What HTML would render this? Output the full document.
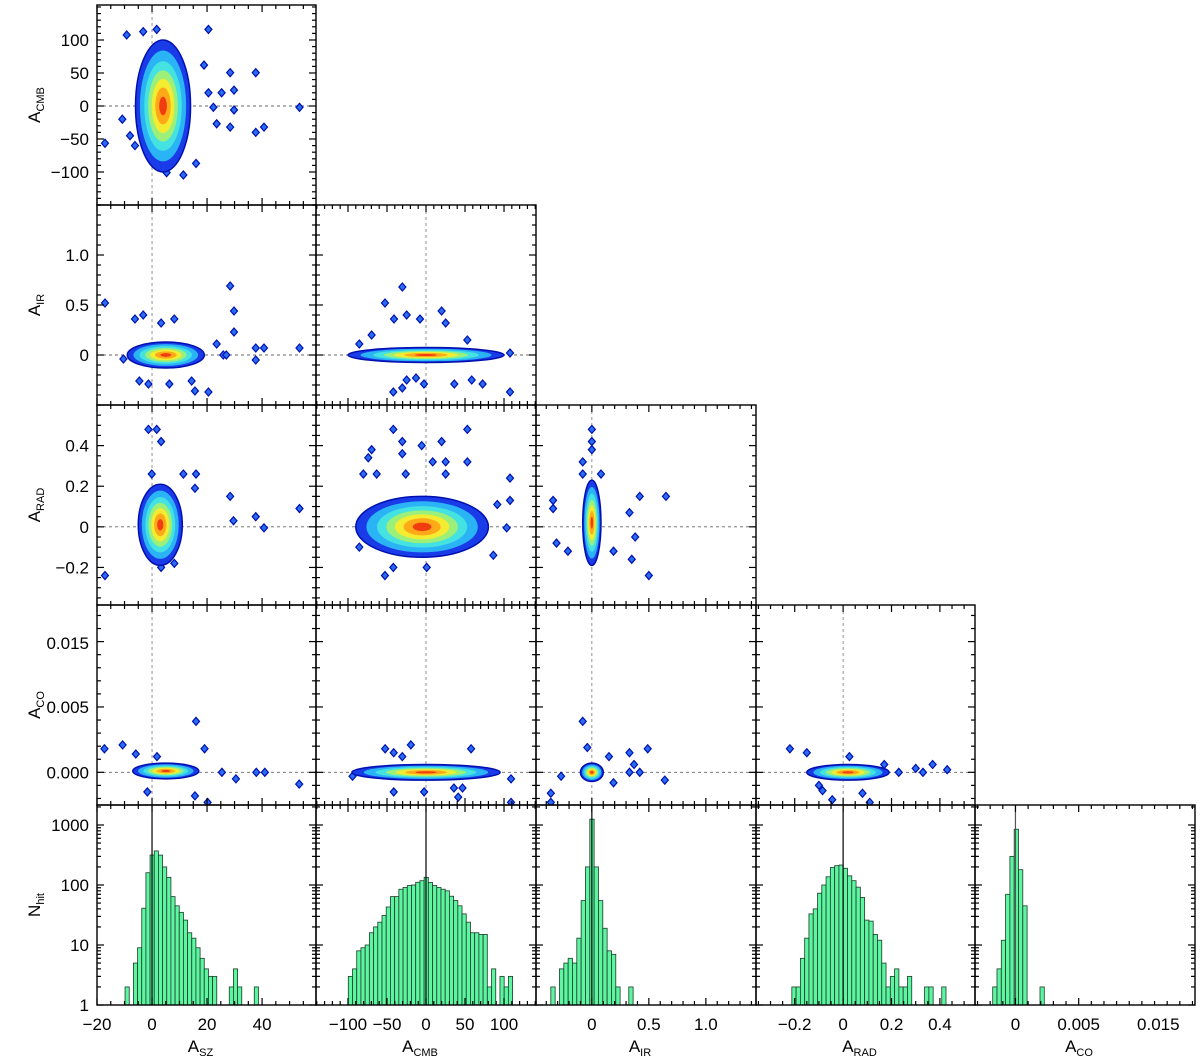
<!DOCTYPE html>
<html><head><meta charset="utf-8"><style>
html,body{margin:0;padding:0;background:#fff}
svg{display:block}
text{font-family:"Liberation Sans",sans-serif;fill:#000}
</style></head><body>
<svg id="fig" width="1200" height="1057" viewBox="0 0 1200 1057" xmlns="http://www.w3.org/2000/svg"></svg>
<script>
// ---------- data ----------
const paramNames = ['SZ','CMB','IR','RAD','CO'];
const histBinStart = [-9.8, -99.6, -0.36, -0.212, -0.0018];
const histBinWidth = [1.515, 5.4, 0.038, 0.0177, 0.00034];
const histSZ  = [2,0,5,9,41,160,316,370,315,200,134,64,45,35,26,16,13,9,6,4,3,3,0,0,0,2,4,2,0,0,0,2];
const histCMB = [3,4,8,9,10,16,20,24,31,43,64,64,85,91,98,100,111,118,134,110,98,91,85,80,65,55,45,33,24,16,16,15,15,2,4,0,3,2,3];
const histIR  = [2,0,4,5,6,5,13,55,200,1250,200,55,19,8,7,2,0,0,2];
const histRAD = [2,2,6,13,33,40,73,100,137,195,210,215,190,142,118,92,62,26,25,15,12,5,2,3,4,2,2,3,0,0,0,2,2,0,0,2];
const histCO  = [2,4,12,70,300,850,180,45,0,0,0,2];
const histCounts = [histSZ,histCMB,histIR,histRAD,histCO];

// contour blobs: [cx, cy, rx, ry] per (row,col) in data units
const blobKeys = ['1-0','2-0','2-1','3-0','3-1','3-2','4-0','4-1','4-2','4-3'];
const blobSpecs = [
 [4,0,10,100],[5,0,14,0.13],[0,0,100,0.075],[3,0.01,8,0.2],[-5,0,85,0.15],
 [0,0.02,0.08,0.21],[5,0.0001,12,0.0006],[0,0,95,0.0006],[0,0,0.1,0.0007],[0.02,0,0.17,0.0006]
];
const outliers = {
 '1-0':[[-9.2,107.6],[-3.2,112.6],[1.7,116],[20.5,116],[28.4,50.5],[37.7,50.5],[29.8,24],[25.3,20],[20.5,20],[18.9,62],[29.8,-6],[22.3,-2],[23.5,-27],[28.4,-32],[37.7,-40],[40.7,-32],[53.6,-2],[-17.1,-56.5],[-10.8,-20],[16,-87],[5.3,-101],[11.4,-104.5],[-8,-45],[-6.2,-60]],
 '2-0':[[-17.1,0.52],[28.4,0.69],[29.8,0.44],[29.8,0.23],[37.7,0.07],[40.7,0.07],[37.7,-0.05],[53.6,0.07],[25.9,0],[27,0],[20.5,-0.37],[14.4,-0.26],[15.6,-0.36],[-4.6,-0.26],[-1.3,-0.29],[6.3,-0.29],[-6.2,0.36],[-3.2,0.40],[3.3,0.32],[8.1,0.36],[23.5,0.11],[-10.4,-0.04]],
 '3-0':[[-1.3,0.48],[1.7,0.48],[3.3,0.42],[11.4,0.26],[16,0.26],[15.6,0.19],[28.4,0.15],[37.7,0.05],[40.7,-0.005],[53.6,0.09],[-17.1,-0.24],[8.1,-0.18],[3.3,-0.2],[29.6,0.03],[-0.1,0.26]],
 '2-1':[[-30.3,0.68],[-52.6,0.52],[-24.8,0.40],[-41,0.36],[-7.7,0.36],[20,0.44],[25.2,0.32],[-69.7,0.2],[-85.5,0.11],[53,0.15],[107.7,0.02],[-41.9,-0.37],[-30.4,-0.33],[-24.8,-0.25],[-12.8,-0.23],[-2.6,-0.29],[36.3,-0.29],[58.6,-0.25],[72.6,-0.29],[107.7,-0.37]],
 '3-1':[[-41.9,0.48],[53,0.48],[-30.4,0.42],[20,0.42],[-5.5,0.40],[-30.4,0.36],[-69.7,0.38],[-74,0.34],[8.6,0.32],[25.2,0.32],[53,0.32],[-80.3,0.26],[-63.2,0.26],[-26,0.26],[25.2,0.26],[107.7,0.24],[107.7,0.13],[91.4,0.11],[-85.5,-0.1],[86.3,-0.14],[-41.9,-0.2],[0.9,-0.2],[-52.6,-0.24],[103.4,-0.005]],
 '3-2':[[0,0.48],[0,0.42],[0,0.38],[-0.08,0.32],[-0.08,0.26],[0.08,0.26],[-0.34,0.13],[-0.34,0.09],[0.42,0.15],[0.65,0.15],[0.33,0.07],[0.38,-0.05],[0.35,-0.16],[0.5,-0.24],[0.19,-0.12],[-0.31,-0.08],[-0.21,-0.12]],
 '4-0':[[-17.3,0.0018],[-10.7,0.0021],[-5.9,0.0014],[1.8,0.0012],[16,0.0039],[19.1,0.0018],[-1.7,-0.0015],[15.6,-0.0018],[30.5,-0.0005],[37.9,0],[41,0],[53.5,-0.0009],[25.4,0],[20.2,-0.0023]],
 '4-1':[[-52.4,0.0018],[-41.4,0.0015],[-30.4,0.0012],[-19.4,0.0021],[57.8,0.0018],[-94.2,-0.0003],[-41.4,-0.0015],[-2.4,-0.0015],[35.8,-0.0012],[46.8,-0.0012],[41.3,-0.0019],[109,-0.0005],[109,-0.0023]],
 '4-2':[[-0.08,0.0039],[-0.04,0.0019],[0.15,0.0012],[0.33,0.0015],[0.49,0.0018],[0.37,0.0006],[0.33,0],[0.42,0],[0.64,-0.0006],[0.19,-0.0008],[-0.36,-0.0016],[-0.36,-0.0023],[-0.27,-0.0003]],
 '4-3':[[-0.22,0.0018],[-0.15,0.0015],[0.026,0.0012],[0.17,0.0006],[-0.085,-0.0014],[-0.1,-0.001],[-0.045,-0.0021],[0.08,-0.0016],[0.23,0],[0.3,0.0003],[0.33,0],[0.37,0.0006],[0.43,0.0002],[0.11,-0.0023]]
};

// axis ticks
const xTickVals = [[-20,0,20,40],[-100,-50,0,50,100],[0,0.5,1.0],[-0.2,0,0.2,0.4],[0,0.005,0.0113]];
const xTickLabels = [['−20','0','20','40'],['−100','−50','0','50','100'],['0','0.5','1.0'],['−0.2','0','0.2','0.4'],['0','0.005','0.015']];
const xMinor = [5,10,0.1,0.05,0.001];
const yTickVals = [null,[-100,-50,0,50,100],[0,0.5,1.0],[-0.2,0,0.2,0.4],[0,0.005,0.0099]];
const yTickLabels = [null,['−100','−50','0','50','100'],['0','0.5','1.0'],['−0.2','0','0.2','0.4'],['0.000','0.005','0.015']];
const yMinor = [null,10,0.1,0.05,0.001];
const logTicks = [1,10,100,1000];
const logLabels = ['1','10','100','1000'];

// ---------- geometry ----------
const colX = [[97,316],[316,536],[536,756],[756,975],[975,1195]];
const rowY = [[5,205],[205,405],[405,605],[605,805],[805,1005]];
const xDom = [[-20,59.6],[-141,141],[-0.49,1.44],[-0.36,0.545],[-0.0032,0.0142]];
const yDom = [null,[-150,153],[-0.5,1.5],[-0.385,0.6],[-0.0025,0.0128]];
function sx(c,v){const d=xDom[c],p=colX[c];return p[0]+(v-d[0])/(d[1]-d[0])*(p[1]-p[0]);}
function sy(r,v){const d=yDom[r+1],p=rowY[r];return p[1]-(v-d[0])/(d[1]-d[0])*(p[1]-p[0]);}
function sLog(n){return 1005-60*Math.log10(n);}

const NS='http://www.w3.org/2000/svg';
const svg=document.getElementById('fig');
function mk(tag,attrs,parent){const e=document.createElementNS(NS,tag);for(const k in attrs)e.setAttribute(k,attrs[k]);(parent||svg).appendChild(e);return e;}
function subText(x,y,main,sub,transform){
  const t=mk('text',{x:x,y:y,'font-size':17,'text-anchor':'middle'});
  if(transform)t.setAttribute('transform',transform);
  t.appendChild(document.createTextNode(main));
  const ts=mk('tspan',{'font-size':11,dy:4},t);
  ts.textContent=sub;
  return t;
}

const levels=[[1,'#1a3ce8'],[0.84,'#2ab4f6'],[0.68,'#44e2e0'],[0.54,'#9cf07a'],[0.41,'#f4ec30'],[0.28,'#ffa818'],[0.14,'#f03c10']];

function ticksX(g,c,y0,y1){
  const d=xDom[c];
  const st=xMinor[c];
  for(let k=Math.ceil(d[0]/st); k*st<=d[1]; k++){
    const v=k*st;
    const x=sx(c,v);
    const major=xTickVals[c].some(t=>Math.abs(t-v)<st/4);
    const L=major?7:4;
    mk('line',{x1:x,x2:x,y1:y1,y2:y1-L,stroke:'#000','stroke-width':1.2},g);
    mk('line',{x1:x,x2:x,y1:y0,y2:y0+L,stroke:'#000','stroke-width':1.2},g);
  }
}
function ticksY(g,r,x0,x1){
  const d=yDom[r+1],st=yMinor[r+1];
  for(let k=Math.ceil(d[0]/st); k*st<=d[1]; k++){
    const v=k*st;
    const y=sy(r,v);
    const major=yTickVals[r+1].some(t=>Math.abs(t-v)<st/4);
    const L=major?7:4;
    mk('line',{x1:x0,x2:x0+L,y1:y,y2:y,stroke:'#000','stroke-width':1.2},g);
    mk('line',{x1:x1,x2:x1-L,y1:y,y2:y,stroke:'#000','stroke-width':1.2},g);
  }
}

// ---------- scatter/contour panels ----------
for(let r=0;r<4;r++){
  for(let c=0;c<=r;c++){
    const key=(r+1)+'-'+c;
    const g=mk('g',{});
    
    
    const x0=colX[c][0],x1=colX[c][1],y0=rowY[r][0],y1=rowY[r][1];
    const clipId='cp'+r+c;
    const cp=mk('clipPath',{id:clipId},g);mk('rect',{x:x0,y:y0,width:x1-x0,height:y1-y0},cp);
    const inner=mk('g',{'clip-path':'url(#'+clipId+')'},g);
    const zx=sx(c,0),zy=sy(r,0);
    mk('line',{x1:zx,x2:zx,y1:y0,y2:y1,stroke:'#777','stroke-width':0.8,'stroke-dasharray':'3,3'},inner);
    mk('line',{x1:x0,x2:x1,y1:zy,y2:zy,stroke:'#666','stroke-width':0.9,'stroke-dasharray':'3,3'},inner);
    (outliers[key]||[]).forEach(p=>{
      const px=sx(c,p[0]),py=sy(r,p[1]);
      const d=mk('path',{d:`M${px} ${py-4}L${px+3.5} ${py}L${px} ${py+4}L${px-3.5} ${py}Z`,fill:'#2a6cf0',stroke:'#0010b0','stroke-width':1.2},inner);
      
      
    });
    const bi=blobKeys.indexOf(key);
    const b=blobSpecs[bi];
    const cx=sx(c,b[0]),cy=sy(r,b[1]);
    const rx=Math.abs(sx(c,b[0]+b[2])-cx),ry=Math.abs(sy(r,b[1]+b[3])-cy);
    levels.forEach((lv,i)=>{
      const e=mk('ellipse',{cx:cx,cy:cy,rx:rx*lv[0],ry:ry*lv[0],fill:lv[1]},inner);
      if(i===0){e.setAttribute('stroke','#0010b0');e.setAttribute('stroke-width','1.5');}
      
      
    });
    mk('rect',{x:x0,y:y0,width:x1-x0,height:y1-y0,fill:'none',stroke:'#000','stroke-width':1.4},g);
    ticksX(g,c,y0,y1);
    ticksY(g,r,x0,x1);
  }
}

// ---------- histograms ----------
for(let c=0;c<5;c++){
  const g=mk('g',{});
  
  
  const x0=colX[c][0],x1=colX[c][1],y0=rowY[4][0],y1=rowY[4][1];
  const counts=histCounts[c];
  counts.forEach((n,i)=>{
    if(n<=0) return;
    const a=sx(c,histBinStart[c]+i*histBinWidth[c]),bb=sx(c,histBinStart[c]+(i+1)*histBinWidth[c]);
    const top=sLog(n);
    const rc=mk('rect',{x:a,y:top,width:bb-a,height:y1-top,fill:'#5cf5a0',stroke:'#1e3a2a','stroke-width':0.8},g);
    
    
  });
  const zx=sx(c,0);
  mk('line',{x1:zx,x2:zx,y1:y0,y2:y1,stroke:c===4?'#555':'#000','stroke-width':1.2},g);
  mk('rect',{x:x0,y:y0,width:x1-x0,height:y1-y0,fill:'none',stroke:'#000','stroke-width':1.4},g);
  ticksX(g,c,y0,y1);
  for(let dec=0;dec<4;dec++){
    for(let m=1;m<10;m++){
      const n=Math.pow(10,dec)*m; const y=sLog(n); if(y<y0) continue;
      const L=m===1?7:4;
      mk('line',{x1:x0,x2:x0+L,y1:y,y2:y,stroke:'#000','stroke-width':1.2},g);
      mk('line',{x1:x1,x2:x1-L,y1:y,y2:y,stroke:'#000','stroke-width':1.2},g);
    }
  }
  xTickVals[c].forEach((v,i)=>{
    const t=mk('text',{x:sx(c,v),y:1030,'font-size':17,'text-anchor':'middle'});
    t.textContent=xTickLabels[c][i];
    
    
  });
  const tt=subText((x0+x1)/2-6,1052,'A',paramNames[c]);
  
  
}

// ---------- y labels ----------
for(let r=0;r<4;r++){
  yTickVals[r+1].forEach((v,i)=>{
    const t=mk('text',{x:89,y:sy(r,v)+6,'font-size':17,'text-anchor':'end'});
    t.textContent=yTickLabels[r+1][i];
    
    
  });
  const cy=(rowY[r][0]+rowY[r][1])/2;
  const tt=subText(0,0,'A',paramNames[r+1],`translate(40 ${cy}) rotate(-90)`);
  
  
}
logTicks.forEach((n,i)=>{
  const t=mk('text',{x:89,y:sLog(n)+6,'font-size':17,'text-anchor':'end'});
  t.textContent=logLabels[i];
  
  
});
const nh=subText(0,0,'N','hit','translate(40 905) rotate(-90)');


</script>
</body></html>
